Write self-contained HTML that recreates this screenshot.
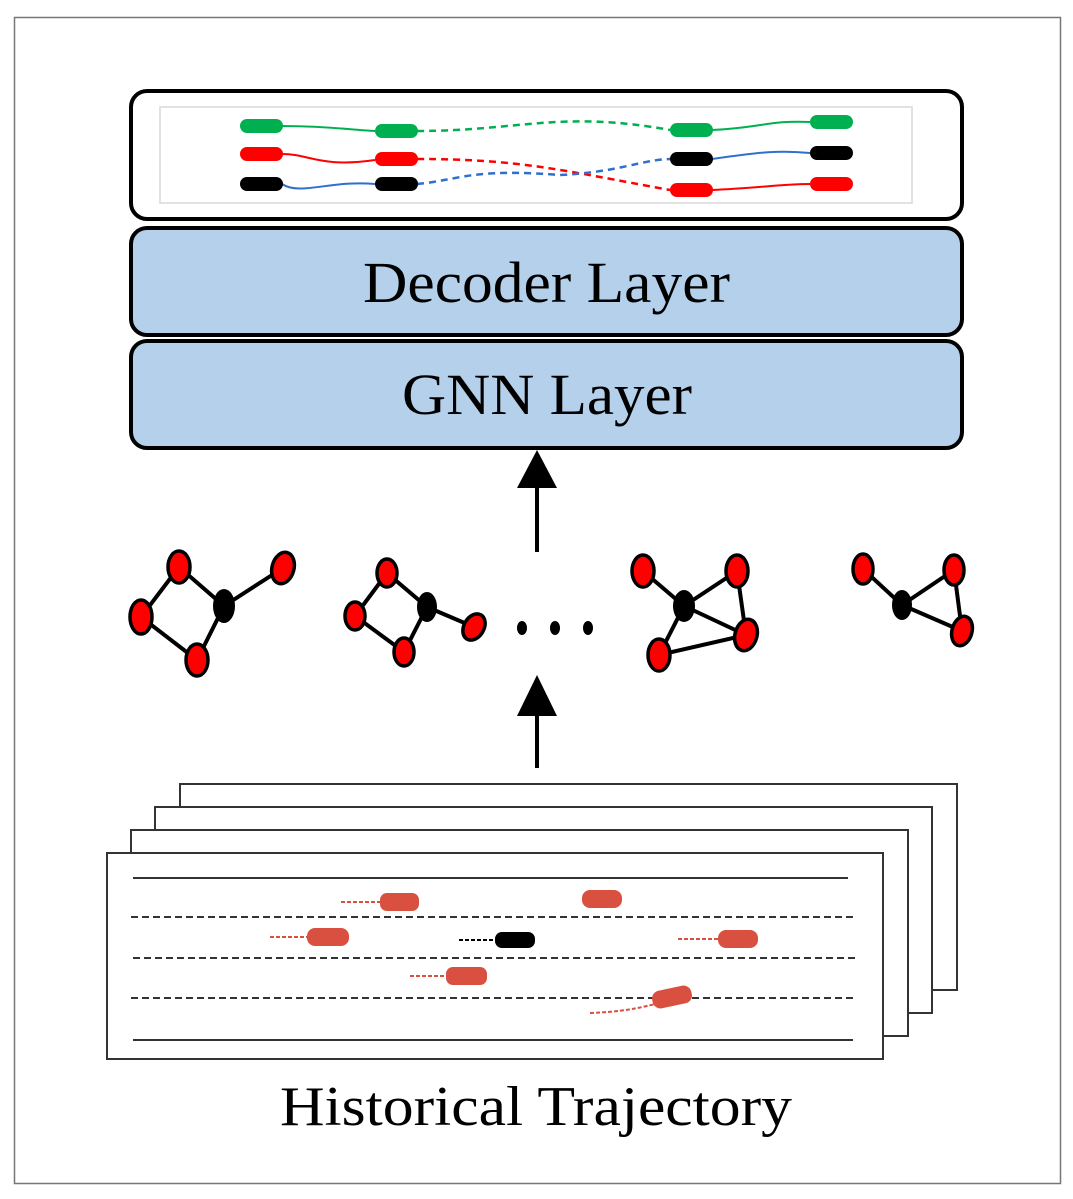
<!DOCTYPE html>
<html><head><meta charset="utf-8"><style>
html,body{margin:0;padding:0;background:#fff;}
svg{display:block;}
text{font-family:"Liberation Serif",serif;fill:#000;}
</style></head><body>
<svg width="1073" height="1199" viewBox="0 0 1073 1199" xmlns="http://www.w3.org/2000/svg">
<rect x="14.5" y="17.5" width="1046" height="1166" fill="#fff" stroke="#777" stroke-width="1.5"/>

<rect x="131" y="91" width="831" height="128" rx="16" fill="#fff" stroke="#000" stroke-width="4"/>
<rect x="160" y="107" width="752" height="96" fill="#fff" stroke="#d8d8d8" stroke-width="1.5"/>
<g fill="none" stroke-width="2">
<path d="M282 126 C330 126,350 130,375 131" stroke="#00b050"/>
<path d="M417 131 C520 131,560 110,670 130" stroke="#00b050" stroke-width="2.5" stroke-dasharray="7,5"/>
<path d="M712 130 C760 128,770 120,810 122" stroke="#00b050"/>
<path d="M282 154 C310 154,320 168,375 160" stroke="#ff0000"/>
<path d="M417 159 C520 159,560 170,670 190" stroke="#ff0000" stroke-width="2.5" stroke-dasharray="7,5"/>
<path d="M712 190 C760 188,780 184,810 184" stroke="#ff0000"/>
<path d="M282 184 C300 196,330 180,375 184" stroke="#2f6fd0"/>
<path d="M417 184 C460 180,470 168,560 175 C620 172,640 160,670 159" stroke="#2f6fd0" stroke-width="2.5" stroke-dasharray="7,5"/>
<path d="M712 159 C760 152,780 150,810 153" stroke="#2f6fd0"/>
</g>
<g>
<rect x="240" y="119" width="43" height="14" rx="7" fill="#00b050"/>
<rect x="375" y="124" width="43" height="14" rx="7" fill="#00b050"/>
<rect x="670" y="123" width="43" height="14" rx="7" fill="#00b050"/>
<rect x="810" y="115" width="43" height="14" rx="7" fill="#00b050"/>
<rect x="240" y="147" width="43" height="14" rx="7" fill="#ff0000"/>
<rect x="375" y="152" width="43" height="14" rx="7" fill="#ff0000"/>
<rect x="670" y="183" width="43" height="14" rx="7" fill="#ff0000"/>
<rect x="810" y="177" width="43" height="14" rx="7" fill="#ff0000"/>
<rect x="240" y="177" width="43" height="14" rx="7" fill="#000"/>
<rect x="375" y="177" width="43" height="14" rx="7" fill="#000"/>
<rect x="670" y="152" width="43" height="14" rx="7" fill="#000"/>
<rect x="810" y="146" width="43" height="14" rx="7" fill="#000"/>
</g>

<rect x="131" y="228" width="831" height="107" rx="16" fill="#b5d0ea" stroke="#000" stroke-width="4"/>
<rect x="131" y="341" width="831" height="107" rx="16" fill="#b5d0ea" stroke="#000" stroke-width="4"/>
<text x="363" y="302" font-size="58" textLength="367" lengthAdjust="spacingAndGlyphs">Decoder Layer</text>
<text x="402" y="414" font-size="58" textLength="290" lengthAdjust="spacingAndGlyphs">GNN Layer</text>

<line x1="537" y1="552" x2="537" y2="485" stroke="#000" stroke-width="4"/>
<polygon points="537,450 517,488 557,488" fill="#000"/>
<line x1="537" y1="768" x2="537" y2="712" stroke="#000" stroke-width="4"/>
<polygon points="537,675 517,716 557,716" fill="#000"/>

<g stroke="#000" stroke-width="4" fill="none">
<path d="M179 567 L224 606 L283 568 M179 567 L141 617 L197 660 L224 606"/>
<path d="M387 573 L427 607 L474 627 M387 573 L355 616 L404 652 L427 607"/>
<path d="M643 571 L684 606 L737 571 L746 635 L684 606 L659 655 L746 635"/>
<path d="M863 569 L902 605 L954 570 L962 631 L902 605"/>
</g>
<g fill="#ff0000" stroke="#000" stroke-width="3.5">
<ellipse cx="179" cy="567" rx="11" ry="16"/><ellipse cx="283" cy="568" rx="11" ry="16" transform="rotate(15 283 568)"/>
<ellipse cx="141" cy="617" rx="11" ry="17"/><ellipse cx="197" cy="660" rx="11" ry="16"/>
<ellipse cx="387" cy="573" rx="10" ry="14"/><ellipse cx="355" cy="616" rx="10" ry="14"/>
<ellipse cx="404" cy="652" rx="10" ry="14"/><ellipse cx="474" cy="627" rx="10" ry="14" transform="rotate(30 474 627)"/>
<ellipse cx="643" cy="571" rx="11" ry="16"/><ellipse cx="737" cy="571" rx="11" ry="16"/>
<ellipse cx="746" cy="635" rx="11" ry="16" transform="rotate(15 746 635)"/><ellipse cx="659" cy="655" rx="11" ry="16"/>
<ellipse cx="863" cy="569" rx="10" ry="15"/><ellipse cx="954" cy="570" rx="10" ry="15"/>
<ellipse cx="962" cy="631" rx="10" ry="15" transform="rotate(15 962 631)"/>
</g>
<g fill="#000">
<ellipse cx="224" cy="606" rx="11" ry="17"/><ellipse cx="427" cy="607" rx="10" ry="15"/>
<ellipse cx="684" cy="606" rx="11" ry="16"/><ellipse cx="902" cy="605" rx="10" ry="15"/>
<ellipse cx="522" cy="628" rx="5" ry="7"/><ellipse cx="555" cy="628" rx="5" ry="7"/><ellipse cx="588" cy="628" rx="5" ry="7"/>
</g>

<g fill="#fff" stroke="#333" stroke-width="2">
<rect x="180" y="784" width="777" height="206"/>
<rect x="155" y="807" width="777" height="206"/>
<rect x="131" y="830" width="777" height="206"/>
<rect x="107" y="853" width="776" height="206"/>
</g>
<g stroke="#333" stroke-width="2">
<line x1="133" y1="878" x2="848" y2="878"/>
<line x1="133" y1="1040" x2="853" y2="1040"/>
<g stroke-dasharray="7,4"><line x1="131" y1="917" x2="856" y2="917"/>
<line x1="133" y1="958" x2="856" y2="958"/>
<line x1="131" y1="998" x2="856" y2="998"/></g>
</g>
<g stroke="#d95040" stroke-width="2" stroke-dasharray="4,2">
<line x1="341" y1="902" x2="380" y2="902"/><line x1="270" y1="937" x2="307" y2="937"/>
<line x1="678" y1="939" x2="718" y2="939"/><line x1="410" y1="976" x2="446" y2="976"/>
<path d="M590 1013 C620 1012,640 1008,655 1004" fill="none"/>
</g>
<line x1="459" y1="940" x2="495" y2="940" stroke="#000" stroke-width="2" stroke-dasharray="4,2"/>
<g fill="#d95040">
<rect x="380" y="893" width="39" height="18" rx="7"/><rect x="582" y="890" width="40" height="18" rx="8"/>
<rect x="307" y="928" width="42" height="18" rx="8"/><rect x="718" y="930" width="40" height="18" rx="8"/>
<rect x="446" y="967" width="41" height="18" rx="7"/>
<rect x="652" y="988" width="40" height="18" rx="8" transform="rotate(-12 672 997)"/>
</g>
<rect x="495" y="932" width="40" height="16" rx="7" fill="#000"/>

<text x="280" y="1125" font-size="56" textLength="512" lengthAdjust="spacingAndGlyphs">Historical Trajectory</text>
</svg>
</body></html>
